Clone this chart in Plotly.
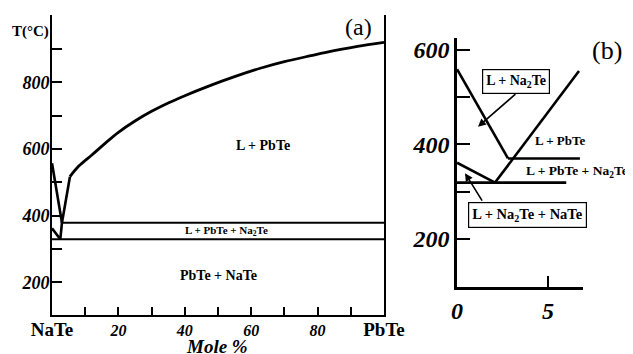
import plotly.graph_objects as go

# ---------------- Panel (a) data ----------------
a_na2te_liq_x = [0, 3.0]
a_na2te_liq_t = [557, 379]
a_low_left_x = [0, 2.5]
a_low_left_t = [362, 329]
a_pbte_liq_x = [2.5, 3.0, 5.4]
a_pbte_liq_t = [329, 379, 517]
a_curve_x = [5.4, 8, 12, 16, 20, 25, 30, 35, 40, 47, 55, 63, 70, 78, 85, 92, 100]
a_curve_t = [517, 548, 582, 617, 650, 684, 713, 738, 760, 788, 817, 843, 862, 880, 895, 908, 920]
a_upper_iso_x = [3.0, 100]
a_upper_iso_t = [379, 379]
a_lower_iso_x = [0, 100]
a_lower_iso_t = [329, 329]
a_xtick_vals = [0, 20, 40, 60, 80, 100]
a_xtick_text = ["<span style='font-style:normal;font-size:19px'>NaTe</span>", "20", "40",
                "60", "80", "<span style='font-style:normal;font-size:19px'>PbTe</span>"]
a_ytick_vals = [200, 400, 600, 800]
a_ytick_text = ["200", "400", "600", "800"]

# ---------------- Panel (b) data ----------------
b_na2te_liq_x = [0, 2.8]
b_na2te_liq_t = [559, 370]
b_pbte_liq_x = [2.09, 6.7]
b_pbte_liq_t = [319, 555]
b_upper_iso_x = [2.8, 6.75]
b_upper_iso_t = [370, 370]
b_lower_iso_x = [0, 6.0]
b_lower_iso_t = [319, 319]
b_low_left_x = [0, 2.09]
b_low_left_t = [361, 319]
b_xtick_vals = [0, 5]
b_xtick_text = ["0", "5"]
b_ytick_vals = [200, 400, 600]
b_ytick_text = ["200", "400", "600"]

FONT = "Liberation Serif"
# the page body has an 8px margin, so the figure is drawn 8px in from the corner
OFF = 8
W, H = 633 - OFF, 354 - OFF

def fx(px):
    return (px - OFF) / W

def fy(py):
    return 1 - (py - OFF) / H

fig = go.Figure()

def seg(x, y, xa, ya, w=2.6, shape="linear"):
    fig.add_trace(go.Scatter(x=x, y=y, mode="lines", xaxis=xa, yaxis=ya,
                             line=dict(color="black", width=w, shape=shape),
                             hoverinfo="skip", showlegend=False))

seg(a_na2te_liq_x, a_na2te_liq_t, "x", "y")
seg(a_low_left_x, a_low_left_t, "x", "y")
seg(a_pbte_liq_x, a_pbte_liq_t, "x", "y")
seg(a_curve_x, a_curve_t, "x", "y", w=2.8, shape="spline")
seg(a_upper_iso_x, a_upper_iso_t, "x", "y", w=2)
seg(a_lower_iso_x, a_lower_iso_t, "x", "y", w=2)

seg(b_na2te_liq_x, b_na2te_liq_t, "x2", "y2")
seg(b_pbte_liq_x, b_pbte_liq_t, "x2", "y2")
seg(b_upper_iso_x, b_upper_iso_t, "x2", "y2")
seg(b_lower_iso_x, b_lower_iso_t, "x2", "y2")
seg(b_low_left_x, b_low_left_t, "x2", "y2")

tickfont_ax = dict(family=FONT, size=16, color="black", weight="bold", style="italic")
tickfont_ay = dict(family=FONT, size=18, color="black", weight="bold", style="italic")
tickfont_b = dict(family=FONT, size=24, color="black", weight="bold", style="italic")

fig.update_layout(
    width=W, height=H, margin=dict(l=0, r=0, t=0, b=0, pad=0, autoexpand=False),
    paper_bgcolor="white", plot_bgcolor="white", showlegend=False,
    xaxis=dict(domain=[fx(52), fx(384)], range=[0, 100], tickvals=a_xtick_vals, ticktext=a_xtick_text,
               ticks="inside", ticklen=8, tickwidth=1.5, tickcolor="black", tickfont=tickfont_ax,
               minor=dict(dtick=10, tick0=0, ticks="inside", ticklen=8, tickwidth=1.5, tickcolor="black"),
               showline=True, linecolor="black", linewidth=2, showgrid=False, zeroline=False,
               anchor="y", automargin=False),
    yaxis=dict(domain=[fy(315), fy(15)], range=[102, 1002], tickvals=a_ytick_vals, ticktext=a_ytick_text,
               ticks="inside", ticklen=10, tickwidth=1.5, tickcolor="black", tickfont=tickfont_ay,
               minor=dict(dtick=100, tick0=0, ticks="inside", ticklen=10, tickwidth=1.5, tickcolor="black"),
               showline=True, mirror=True, linecolor="black", linewidth=2, showgrid=False, zeroline=False,
               anchor="x", automargin=False, ticklabelstandoff=-3),
    xaxis2=dict(domain=[fx(457), fx(583)], range=[0, 6.92], tickvals=b_xtick_vals, ticktext=b_xtick_text,
                ticks="inside", ticklen=11, tickwidth=2, tickcolor="black", tickfont=tickfont_b,
                showline=True, linecolor="black", linewidth=2.5, showgrid=False, zeroline=False,
                anchor="y2", automargin=False),
    yaxis2=dict(domain=[fy(287), fy(38)], range=[98, 625], tickvals=b_ytick_vals, ticktext=b_ytick_text,
                ticks="inside", ticklen=13, tickwidth=2, tickcolor="black", tickfont=tickfont_b,
                minor=dict(dtick=100, tick0=0, ticks="inside", ticklen=13, tickwidth=2, tickcolor="black"),
                showline=True, linecolor="black", linewidth=2.5, showgrid=False, zeroline=False,
                anchor="x2", automargin=False),
)

ann = []
def txt(text, x, y, size, xref="x", yref="y", bold=True, italic=False, xanchor="center", **kw):
    ann.append(dict(text=text, x=x, y=y, xref=xref, yref=yref, showarrow=False,
                    xanchor=xanchor, yanchor="middle",
                    font=dict(family=FONT, size=size, color="black",
                              weight="bold" if bold else "normal",
                              style="italic" if italic else "normal"), **kw))

# panel (a) texts
txt("L + PbTe", 63.6, 611, 14)
txt("L + PbTe + Na<sub>2</sub>Te", 52.7, 353, 11)
txt("PbTe + NaTe", 50, 220, 14)
txt("(a)", fx(358), fy(27), 24, xref="paper", yref="paper", bold=False)
txt("T(°C)", fx(30), fy(32), 15, xref="paper", yref="paper")
txt("Mole %", fx(217), fy(346), 19, xref="paper", yref="paper", italic=True)

# panel (b) texts
txt("L + PbTe", 5.66, 409, 13, xref="x2", yref="y2")
txt("L + PbTe + Na<sub>2</sub>Te", fx(524), fy(171), 13.5, xref="paper", yref="paper", xanchor="left")
txt("(b)", fx(607), fy(50), 26, xref="paper", yref="paper", bold=False)
txt("L + Na<sub>2</sub>Te", 3.24, 534, 14, xref="x2", yref="y2",
    bordercolor="black", borderwidth=1.2, borderpad=3, bgcolor="white")
txt("L + Na<sub>2</sub>Te + NaTe", 3.85, 250, 14.5, xref="x2", yref="y2",
    bordercolor="black", borderwidth=1.2, borderpad=3, bgcolor="white")

# arrows in panel (b)
ann.append(dict(x=1.15, y=437, xref="x2", yref="y2", ax=39, ay=-34, text="", showarrow=True,
                arrowhead=2, arrowsize=1, arrowwidth=1.6, arrowcolor="black"))
ann.append(dict(x=0.44, y=339, xref="x2", yref="y2", ax=18, ay=29, text="", showarrow=True,
                arrowhead=2, arrowsize=1, arrowwidth=1.6, arrowcolor="black"))

fig.update_layout(annotations=ann)
fig.write_html("out.html")
